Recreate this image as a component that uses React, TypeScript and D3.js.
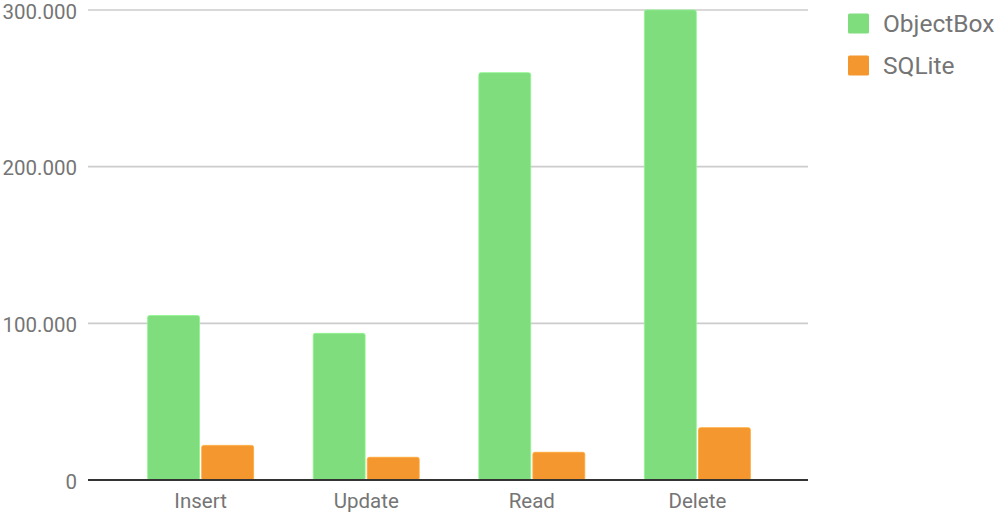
import React from "react";
import * as d3 from "d3";

const categories = ["Insert", "Update", "Read", "Delete"];
const seriesNames = ["ObjectBox", "SQLite"];
const objectBoxValues = [105000, 93600, 260000, 300000];
const sqliteValues = [22100, 14500, 17700, 33400];
const yTicks = [0, 100000, 200000, 300000];
const tickLabels = ["0", "100.000", "200.000", "300.000"];
const colors = ["#7fdd7e", "#f4972f"];

const W = 995;
const H = 513;
const FONT = "Roboto, 'Noto Sans', sans-serif";

export default function App() {
  const left = 88;
  const right = 808;
  const y = d3.scaleLinear().domain([0, 300000]).range([480, 10]);
  const x = d3
    .scaleBand<string>()
    .domain(categories)
    .range([left + 1, right + 1])
    .paddingInner(0.36)
    .paddingOuter(0.354);
  const xs = d3
    .scaleBand<string>()
    .domain(seriesNames)
    .range([0, x.bandwidth()])
    .paddingInner(0.04);
  const series = [objectBoxValues, sqliteValues];

  return (
    <svg
      width={W}
      height={H}
      style={{ position: "absolute", left: 0, top: 0, background: "#fff" }}
      fontFamily={FONT}
    >
      {yTicks.map((t, i) => (
        <g key={t}>
          {i > 0 && (
            <line x1={left} x2={right} y1={y(t)} y2={y(t)} stroke="#cccccc" strokeWidth={1.6} />
          )}
          <text
            x={77}
            y={y(t) + 1.5}
            textAnchor="end"
            dominantBaseline="central"
            fontSize={20.5}
            fill="#757575"
          >
            {tickLabels[i]}
          </text>
        </g>
      ))}
      {categories.map((c, ci) => (
        <g key={c}>
          {seriesNames.map((s, si) => {
            const v = series[si][ci];
            const bx = (x(c) ?? 0) + (xs(s) ?? 0);
            const by = y(v);
            return (
              <rect
                key={s}
                x={bx}
                y={by}
                width={xs.bandwidth()}
                height={y(0) - by}
                rx={2}
                fill={colors[si]}
                stroke={d3.color(colors[si])!.brighter(0.3).formatHex()}
                strokeWidth={0.8}
              />
            );
          })}
          <text
            x={(x(c) ?? 0) + x.bandwidth() / 2}
            y={508}
            textAnchor="middle"
            fontSize={20.5}
            fill="#757575"
          >
            {c}
          </text>
        </g>
      ))}
      <line x1={left} x2={right} y1={y(0)} y2={y(0)} stroke="#333333" strokeWidth={1.8} />
      {seriesNames.map((s, i) => (
        <g key={s}>
          <rect x={848} y={13.5 + i * 42} width={21} height={20} rx={1.5} fill={colors[i]} />
          <text
            x={883}
            y={23.5 + i * 42}
            dominantBaseline="central"
            fontSize={24.5}
            fill="#757575"
          >
            {s}
          </text>
        </g>
      ))}
    </svg>
  );
}
